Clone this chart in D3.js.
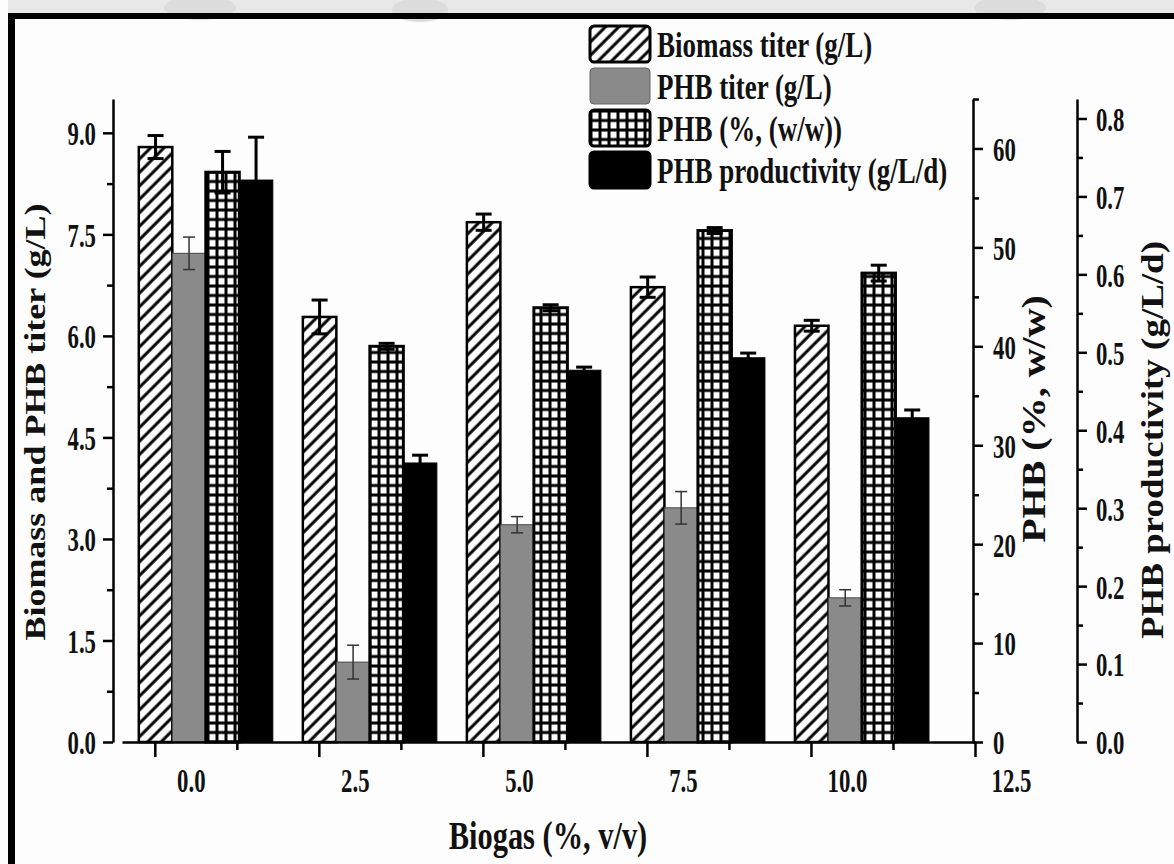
<!DOCTYPE html>
<html>
<head>
<meta charset="utf-8">
<script src="https://cdn.jsdelivr.net/npm/d3@7"></script>
<style>
  body { margin: 0; background: #fff; }
  svg text { font-family: "Liberation Serif", "Times New Roman", serif; font-weight: bold; fill: #111; }
</style>
</head>
<body>
<div class="chartBox"></div>
<script>
//
var W = 1174, H = 864;
var sx = 0.84;   // original figure is squeezed sideways, so is the text
var tsx = 0.67;  // tick labels look narrower still

var biogas = [0, 2.5, 5.0, 7.5, 10.0];
var xTicks = [0, 2.5, 5.0, 7.5, 10.0, 12.5];
var xMinor = [1.25, 3.75, 6.25, 8.75, 11.25];

var biomass = [8.79, 6.28, 7.68, 6.72, 6.15];
var biomassErr = [0.17, 0.25, 0.12, 0.15, 0.08];
var phbTiter = [7.22, 1.18, 3.21, 3.46, 2.13];
var phbTiterErr = [0.24, 0.25, 0.12, 0.24, 0.12];
var phbContent = [57.6, 40.0, 43.9, 51.7, 47.4];
var phbContentErr = [2.1, 0.3, 0.3, 0.3, 0.8];
var phbProd = [0.721, 0.358, 0.477, 0.493, 0.416];
var phbProdErr = [0.055, 0.01, 0.004, 0.006, 0.01];

var leftMajor = [0, 1.5, 3.0, 4.5, 6.0, 7.5, 9.0];
var leftMinor = [0.75, 2.25, 3.75, 5.25, 6.75, 8.25];
var pctMajor = [0, 10, 20, 30, 40, 50, 60];
var pctMinor = [5, 15, 25, 35, 45, 55, 65];
var prodMajor = [0, 0.1, 0.2, 0.3, 0.4, 0.5, 0.6, 0.7, 0.8];
var prodMinor = [0.05, 0.15, 0.25, 0.35, 0.45, 0.55, 0.65, 0.75];

var legendLabels = ['Biomass titer (g/L)', 'PHB titer (g/L)', 'PHB (%, (w/w))', 'PHB productivity (g/L/d)'];

var svg = d3.select('div.chartBox')
  .append('svg')
  .attr('width', W)
  .attr('height', H);

// patterns
var defs = svg.append('defs');
var hatch = defs.append('pattern')
  .attr('id', 'hatch')
  .attr('patternUnits', 'userSpaceOnUse')
  .attr('width', 9.5).attr('height', 9.5)
  .attr('patternTransform', 'rotate(45)');
hatch.append('rect').attr('width', 9.5).attr('height', 9.5).attr('fill', '#fff');
hatch.append('line').attr('x1', 2).attr('x2', 2).attr('y1', 0).attr('y2', 9.5)
  .attr('stroke', '#000').attr('stroke-width', 3);

var grid = defs.append('pattern')
  .attr('id', 'grid')
  .attr('patternUnits', 'userSpaceOnUse')
  .attr('width', 9).attr('height', 9.5);
grid.append('rect').attr('width', 9).attr('height', 9.5).attr('fill', '#000');
grid.append('rect').attr('x', 2.5).attr('y', 2.5).attr('width', 6).attr('height', 6.5).attr('fill', '#fff');

// page frame + grey strip on top
svg.append('rect').attr('width', W).attr('height', H).attr('fill', '#fdfdfd');
svg.append('rect').attr('width', W).attr('height', 14).attr('fill', '#e8e8e8');
[[200, 8, 36], [420, 10, 28], [1010, 8, 36]].forEach(function(b) {
  svg.append('ellipse').attr('cx', b[0]).attr('cy', b[1]).attr('rx', b[2]).attr('ry', 12).attr('fill', '#dcdcdc');
});
svg.append('rect').attr('x', 0).attr('y', 0).attr('width', 8).attr('height', H).attr('fill', '#fdfdfd');
svg.append('line').attr('x1', 8).attr('x2', W).attr('y1', 16).attr('y2', 16)
  .attr('stroke', '#000').attr('stroke-width', 6);
svg.append('line').attr('x1', 11.5).attr('x2', 11.5).attr('y1', 13).attr('y2', H)
  .attr('stroke', '#000').attr('stroke-width', 7);

// scales
var x = d3.scaleLinear().domain([-0.5, 12.5]).range([122, 975]);
var inner = d3.scaleBand().domain([0, 1, 2, 3]).range([-16, 118]);
var yLeft = d3.scaleLinear().domain([0, 9.5]).range([742, 99]);
var yPct = d3.scaleLinear().domain([0, 65]).range([742, 99]);
var yProd = d3.scaleLinear().domain([0, 0.825]).range([742, 99]);

var series = [
  { vals: biomass, errs: biomassErr, y: yLeft },
  { vals: phbTiter, errs: phbTiterErr, y: yLeft },
  { vals: phbContent, errs: phbContentErr, y: yPct },
  { vals: phbProd, errs: phbProdErr, y: yProd }
];
var looks = [
  { fill: 'url(#hatch)', stroke: '#000', sw: 2.5, eb: '#000', ebw: 3, cap: 8 },
  { fill: '#8a8a8a', stroke: '#444', sw: 1, eb: '#333', ebw: 1.5, cap: 6 },
  { fill: 'url(#grid)', stroke: '#000', sw: 3, eb: '#000', ebw: 3, cap: 8 },
  { fill: '#000', stroke: '#000', sw: 1, eb: '#000', ebw: 3, cap: 8 }
];

var bars = [];
series.forEach(function(s, i) {
  biogas.forEach(function(b, j) {
    bars.push({ i: i, b: b, v: s.vals[j], e: s.errs[j], y: s.y });
  });
});

svg.selectAll('rect.bar')
  .data(bars)
  .enter()
  .append('rect')
  .attr('class', 'bar')
  .attr('x', function(d) { return x(d.b) + inner(d.i); })
  .attr('width', inner.bandwidth())
  .attr('y', function(d) { return d.y(d.v); })
  .attr('height', function(d) { return d.y(0) - d.y(d.v); })
  .attr('fill', function(d) { return looks[d.i].fill; })
  .attr('stroke', function(d) { return looks[d.i].stroke; })
  .attr('stroke-width', function(d) { return looks[d.i].sw; });

// error bars
var eb = svg.selectAll('g.err')
  .data(bars)
  .enter()
  .append('g')
  .attr('class', 'err')
  .attr('stroke', function(d) { return looks[d.i].eb; })
  .attr('stroke-width', function(d) { return looks[d.i].ebw; });
eb.append('line')
  .attr('x1', function(d) { return x(d.b) + inner(d.i) + inner.bandwidth() / 2; })
  .attr('x2', function(d) { return x(d.b) + inner(d.i) + inner.bandwidth() / 2; })
  .attr('y1', function(d) { return d.y(d.v - d.e); })
  .attr('y2', function(d) { return d.y(d.v + d.e); });
[1, -1].forEach(function(sgn) {
  eb.append('line')
    .attr('x1', function(d) { return x(d.b) + inner(d.i) + inner.bandwidth() / 2 - looks[d.i].cap; })
    .attr('x2', function(d) { return x(d.b) + inner(d.i) + inner.bandwidth() / 2 + looks[d.i].cap; })
    .attr('y1', function(d) { return d.y(d.v + sgn * d.e); })
    .attr('y2', function(d) { return d.y(d.v + sgn * d.e); });
});

function styleAxis(g) {
  g.selectAll('path, line').attr('stroke', '#000').attr('stroke-width', 2.5);
  g.selectAll('text').style('font-size', '34px');
}

// left axis
var gL = svg.append('g').attr('transform', 'translate(113,0)');
gL.call(d3.axisLeft(yLeft).tickValues(leftMajor).tickSize(10).tickSizeOuter(0).tickFormat(d3.format('.1f')));
gL.append('g').call(d3.axisLeft(yLeft).tickValues(leftMinor).tickSize(6).tickFormat(''))
  .select('.domain').remove();
styleAxis(gL);
gL.selectAll('text').attr('x', -17 / tsx).attr('dy', '0.35em').attr('transform', 'scale(' + tsx + ',1)');

// right axis, PHB %
var gP = svg.append('g').attr('transform', 'translate(973,0)');
gP.call(d3.axisRight(yPct).tickValues(pctMajor).tickSize(10).tickSizeOuter(0).tickFormat(d3.format('d')));
gP.append('g').call(d3.axisRight(yPct).tickValues(pctMinor).tickSize(6).tickFormat(''))
  .select('.domain').remove();
styleAxis(gP);
gP.selectAll('text').attr('x', 20 / tsx).attr('dy', '0.35em').attr('transform', 'scale(' + tsx + ',1)');

// right axis, productivity
var gQ = svg.append('g').attr('transform', 'translate(1077,0)');
gQ.call(d3.axisRight(yProd).tickValues(prodMajor).tickSize(10).tickSizeOuter(0).tickFormat(d3.format('.1f')));
gQ.append('g').call(d3.axisRight(yProd).tickValues(prodMinor).tickSize(6).tickFormat(''))
  .select('.domain').remove();
styleAxis(gQ);
gQ.selectAll('text').attr('x', 19 / tsx).attr('dy', '0.35em').attr('transform', 'scale(' + tsx + ',1)');

// bottom axis (labels sit right of their ticks, as in the original)
var gB = svg.append('g').attr('transform', 'translate(0,742)');
gB.call(d3.axisBottom(x).tickValues(xTicks).tickSize(15).tickSizeOuter(0).tickFormat(d3.format('.1f')));
gB.append('g').call(d3.axisBottom(x).tickValues(xMinor).tickSize(8).tickFormat(''))
  .select('.domain').remove();
styleAxis(gB);
gB.selectAll('text').attr('x', 36 / tsx).attr('y', 50).attr('dy', 0).attr('transform', 'scale(' + tsx + ',1)');

// axis titles
svg.append('text')
  .attr('text-anchor', 'middle').attr('font-size', 36)
  .attr('transform', 'translate(45,422) rotate(-90) scale(1,' + sx + ')')
  .text('Biomass and PHB titer (g/L)');
svg.append('text')
  .attr('text-anchor', 'middle').attr('font-size', 40)
  .attr('transform', 'translate(1045,419) rotate(-90) scale(1,' + sx + ')')
  .text('PHB (%, w/w)');
svg.append('text')
  .attr('text-anchor', 'middle').attr('font-size', 37)
  .attr('transform', 'translate(1163,440) rotate(-90) scale(1,' + sx + ')')
  .text('PHB productivity (g/L/d)');
svg.append('text')
  .attr('text-anchor', 'middle').attr('font-size', 40)
  .attr('transform', 'translate(548,849) scale(0.76,1)')
  .text('Biogas (%, v/v)');

// legend
var lg = svg.selectAll('g.legend')
  .data(legendLabels)
  .enter()
  .append('g')
  .attr('class', 'legend')
  .attr('transform', function(d, i) { return 'translate(590,' + (26 + i * 42) + ')'; });
lg.append('rect')
  .attr('width', 60).attr('height', 36).attr('rx', 4)
  .attr('fill', function(d, i) { return looks[i].fill; })
  .attr('stroke', function(d, i) { return i == 1 ? '#666' : '#000'; })
  .attr('stroke-width', function(d, i) { return i == 1 ? 1 : 3; });
lg.append('text')
  .attr('font-size', 36)
  .attr('transform', 'translate(67,31) scale(0.75,1)')
  .text(function(d) { return d; });
</script>
</body>
</html>
